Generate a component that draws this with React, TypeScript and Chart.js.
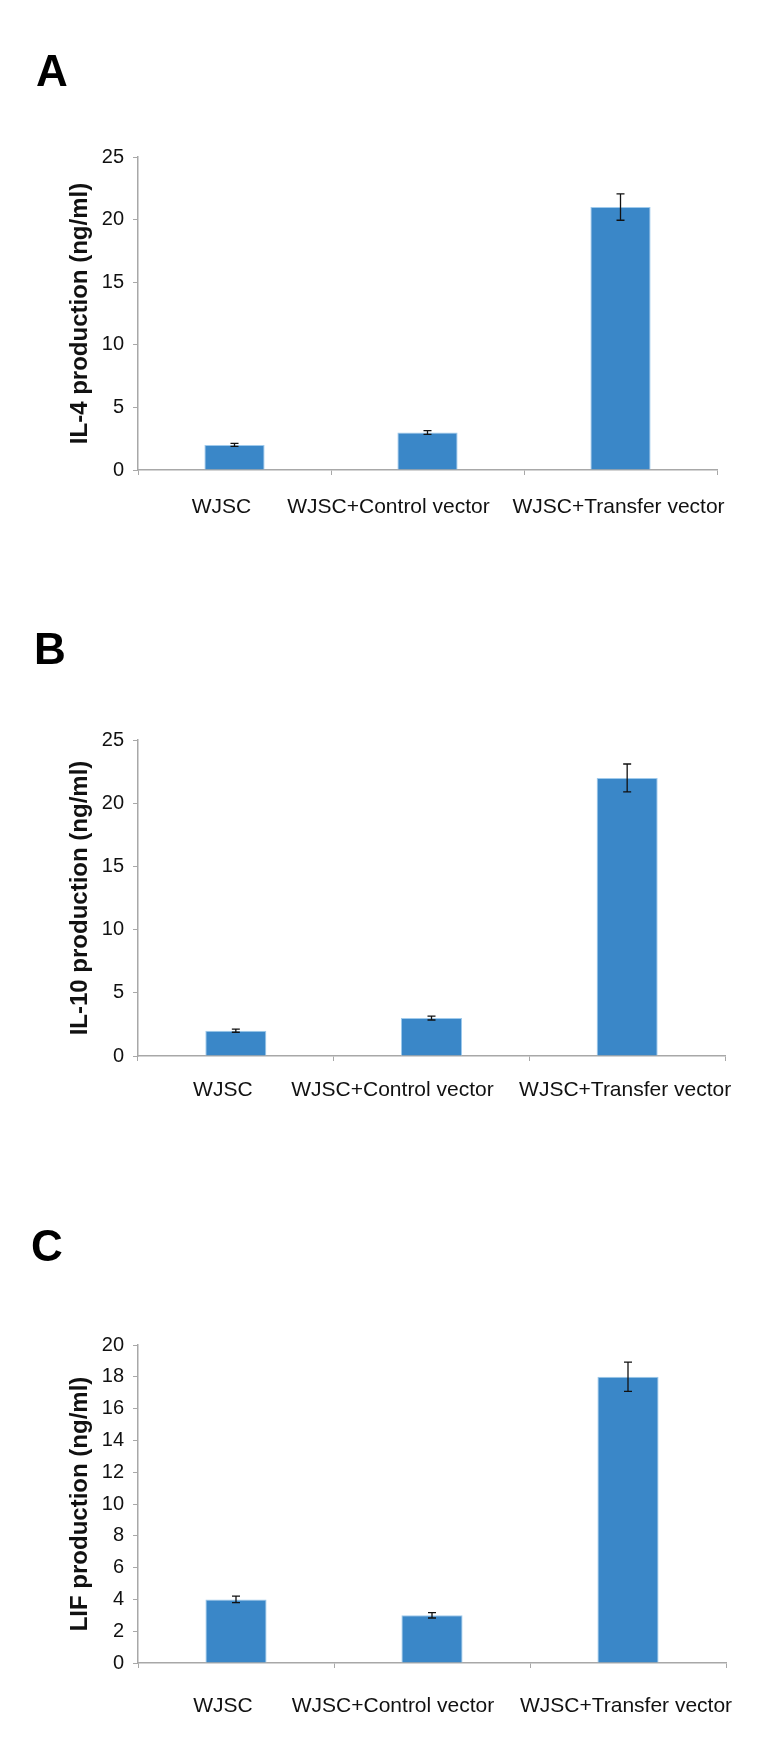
import React, { useEffect, useRef } from 'react';
import { Chart, registerables } from 'chart.js';

Chart.register(...registerables);

// ---- data ----
const categories = ['WJSC', 'WJSC+Control vector', 'WJSC+Transfer vector'];

const il4Values = [2.0, 3.0, 21.0];
const il4Errors = [0.12, 0.15, 1.05];
const il4Ticks = [0, 5, 10, 15, 20, 25];

const il10Values = [2.0, 3.0, 22.0];
const il10Errors = [0.12, 0.15, 1.1];
const il10Ticks = [0, 5, 10, 15, 20, 25];

const lifValues = [4.0, 3.0, 18.0];
const lifErrors = [0.2, 0.17, 0.92];
const lifTicks = [0, 2, 4, 6, 8, 10, 12, 14, 16, 18, 20];

const panelLetters = ['A', 'B', 'C'];
const yTitles = ['IL-4 production (ng/ml)', 'IL-10 production (ng/ml)', 'LIF production (ng/ml)'];

// ---- layout / style ----
const W = 771;
const FONT = '"Liberation Sans", Arial, Helvetica, sans-serif';
const BAR_COLOR = '#3A87C8';
const BAR_BORDER = '#9FCAEC';
const AXIS_COLOR = '#A8A8A8';
const TEXT_COLOR = '#111';
// horizontal shift of each category label relative to its category centre (as in the source figure)
const LABEL_SHIFT = [-13, -39, -2];

type PanelLayout = {
  top: number;
  height: number;
  areaTop: number;
  areaBottom: number;
  areaLeft: number;
  areaRight: number;
  labelOffsetY: number;
  letterTop: number;
  letterLeft: number;
};

const layouts: PanelLayout[] = [
  { top: 0, height: 580, areaTop: 157, areaBottom: 470, areaLeft: 138, areaRight: 717, labelOffsetY: 37, letterTop: 49, letterLeft: 36 },
  { top: 580, height: 580, areaTop: 740, areaBottom: 1056, areaLeft: 138, areaRight: 725, labelOffsetY: 34, letterTop: 627, letterLeft: 34 },
  { top: 1160, height: 596, areaTop: 1345, areaBottom: 1663, areaLeft: 138, areaRight: 726, labelOffsetY: 43, letterTop: 1224, letterLeft: 31 },
];

function errorBarPlugin(errors: number[]) {
  return {
    id: 'errorBars',
    afterDatasetsDraw(chart: any) {
      const meta = chart.getDatasetMeta(0);
      const values = chart.data.datasets[0].data as number[];
      const yScale = chart.scales.y;
      const ctx = chart.ctx;
      ctx.save();
      ctx.strokeStyle = '#111';
      ctx.lineWidth = 1.3;
      meta.data.forEach((bar: any, i: number) => {
        const x = bar.x;
        const yHi = yScale.getPixelForValue(values[i] + errors[i]);
        const yLo = yScale.getPixelForValue(values[i] - errors[i]);
        const cap = 4;
        ctx.beginPath();
        ctx.moveTo(x, yHi);
        ctx.lineTo(x, yLo);
        ctx.moveTo(x - cap, yHi);
        ctx.lineTo(x + cap, yHi);
        ctx.moveTo(x - cap, yLo);
        ctx.lineTo(x + cap, yLo);
        ctx.stroke();
      });
      ctx.restore();
    },
  };
}

function categoryLabelPlugin(offsetY: number) {
  return {
    id: 'categoryLabels',
    afterDraw(chart: any) {
      const xs = chart.scales.x;
      const ctx = chart.ctx;
      ctx.save();
      ctx.font = `21px ${FONT}`;
      ctx.fillStyle = TEXT_COLOR;
      ctx.textAlign = 'center';
      ctx.textBaseline = 'middle';
      (chart.data.labels as string[]).forEach((label, i) => {
        const x = xs.getPixelForTick(i) + LABEL_SHIFT[i];
        const y = xs.top + offsetY;
        ctx.fillText(label, x, y);
      });
      ctx.restore();
    },
  };
}

function Panel(props: { values: number[]; errors: number[]; ticks: number[]; title: string; layout: PanelLayout }) {
  const ref = useRef<HTMLCanvasElement | null>(null);
  const { values, errors, ticks, title, layout } = props;

  useEffect(() => {
    if (!ref.current) return;
    const padTop = layout.areaTop - layout.top;
    const xAxisHeight = layout.top + layout.height - layout.areaBottom;
    const chart = new Chart(ref.current, {
      type: 'bar',
      data: {
        labels: categories,
        datasets: [
          {
            data: values,
            backgroundColor: BAR_COLOR,
            borderColor: BAR_BORDER,
            borderWidth: 1,
            barPercentage: 0.312,
            categoryPercentage: 1,
          },
        ],
      },
      options: {
        responsive: false,
        animation: false,
        devicePixelRatio: 1,
        layout: {
          padding: { top: padTop, bottom: 0, left: 0, right: W - layout.areaRight },
        },
        plugins: {
          legend: { display: false },
          tooltip: { enabled: false },
          title: { display: false },
        },
        scales: {
          x: {
            type: 'category',
            grid: {
              display: true,
              offset: true,
              drawOnChartArea: false,
              drawTicks: true,
              tickLength: 5,
              color: AXIS_COLOR,
              lineWidth: 1,
            },
            border: { display: true, color: AXIS_COLOR, width: 1.5 },
            ticks: {
              display: false,
              autoSkip: false,
              maxRotation: 0,
              minRotation: 0,
            },
            afterFit: (scale: any) => {
              scale.height = xAxisHeight;
            },
          },
          y: {
            min: ticks[0],
            max: ticks[ticks.length - 1],
            grid: {
              display: true,
              drawOnChartArea: false,
              drawTicks: true,
              tickLength: 5,
              color: AXIS_COLOR,
              lineWidth: 1,
            },
            border: { display: true, color: AXIS_COLOR, width: 1.5 },
            ticks: {
              stepSize: ticks[1] - ticks[0],
              padding: 9,
              color: TEXT_COLOR,
              font: { family: FONT, size: 20 },
            },
            afterBuildTicks: (scale: any) => {
              scale.ticks = ticks.map((v) => ({ value: v }));
            },
            title: {
              display: true,
              text: title,
              color: TEXT_COLOR,
              font: { family: FONT, size: 24, weight: 'bold' },
              padding: { top: 66, bottom: 0 },
            },
            afterFit: (scale: any) => {
              scale.width = layout.areaLeft;
            },
          },
        },
      },
      plugins: [errorBarPlugin(errors), categoryLabelPlugin(layout.labelOffsetY)],
    } as any);
    return () => chart.destroy();
  }, [values, errors, ticks, title, layout]);

  return (
    <canvas
      ref={ref}
      width={W}
      height={layout.height}
      style={{ position: 'absolute', left: 0, top: layout.top, width: W, height: layout.height }}
    />
  );
}

export default function App() {
  const valueSets = [il4Values, il10Values, lifValues];
  const errorSets = [il4Errors, il10Errors, lifErrors];
  const tickSets = [il4Ticks, il10Ticks, lifTicks];
  return (
    <div style={{ position: 'absolute', left: 0, top: 0, width: W, height: 1756, background: '#fff', overflow: 'hidden' }}>
      {layouts.map((layout, i) => (
        <React.Fragment key={i}>
          <Panel values={valueSets[i]} errors={errorSets[i]} ticks={tickSets[i]} title={yTitles[i]} layout={layout} />
          <div
            style={{
              position: 'absolute',
              left: layout.letterLeft,
              top: layout.letterTop,
              fontFamily: FONT,
              fontWeight: 'bold',
              fontSize: 44,
              lineHeight: '44px',
              color: '#000',
            }}
          >
            {panelLetters[i]}
          </div>
        </React.Fragment>
      ))}
    </div>
  );
}
